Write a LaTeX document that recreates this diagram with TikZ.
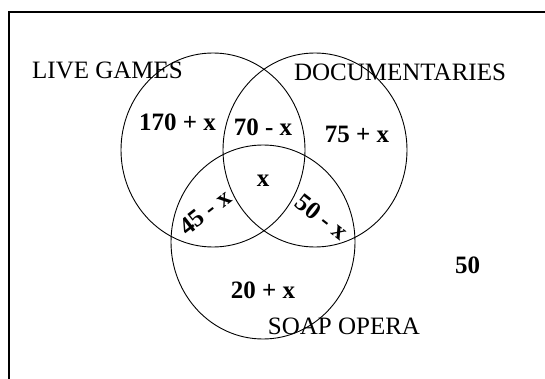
\documentclass[tikz,border=0pt]{standalone}
\usepackage{fontspec}
\setmainfont{Liberation Serif}
\usepackage{tikz}

\begin{document}
\begin{tikzpicture}[
  x=1pt, y=-1pt,
  set/.style     = {line width=0.9pt},
  setname/.style = {font=\fontsize{25}{28}\selectfont, inner sep=0pt},
  count/.style   = {font=\fontsize{25}{28}\selectfont\bfseries, inner sep=0pt},
]
  \useasboundingbox (0,0) rectangle (545,379);
  \draw[line width=1.2pt] (9,379) -- (9,12) -- (545,12);

  % the three sets
  \draw[set] (213,150) ellipse [x radius=92, y radius=97];
  \draw[set] (315,150) ellipse [x radius=92, y radius=97];
  \draw[set] (263,242) ellipse [x radius=92, y radius=97];

  \node[setname] (live) at (107.5,70) {LIVE GAMES};
  \node[setname] (docs) at (400,72)   {DOCUMENTARIES};
  \node[setname] (soap) at (344,326)  {SOAP OPERA};

  \node[count] (lonly)  at (177.5,122) {170 + x};
  \node[count] (ld)     at (263,127)   {70 - x};
  \node[count] (donly)  at (357,134)   {75 + x};
  \node[count] (all)    at (263,181)   {x};
  \node[count, rotate=38]  (ls) at (205,212) {45 - x};
  \node[count, rotate=-38] (ds) at (322,217) {50 - x};
  \node[count] (sonly)  at (263,290)   {20 + x};
  \node[count] (none)   at (467.5,265) {50};
\end{tikzpicture}
\end{document}
